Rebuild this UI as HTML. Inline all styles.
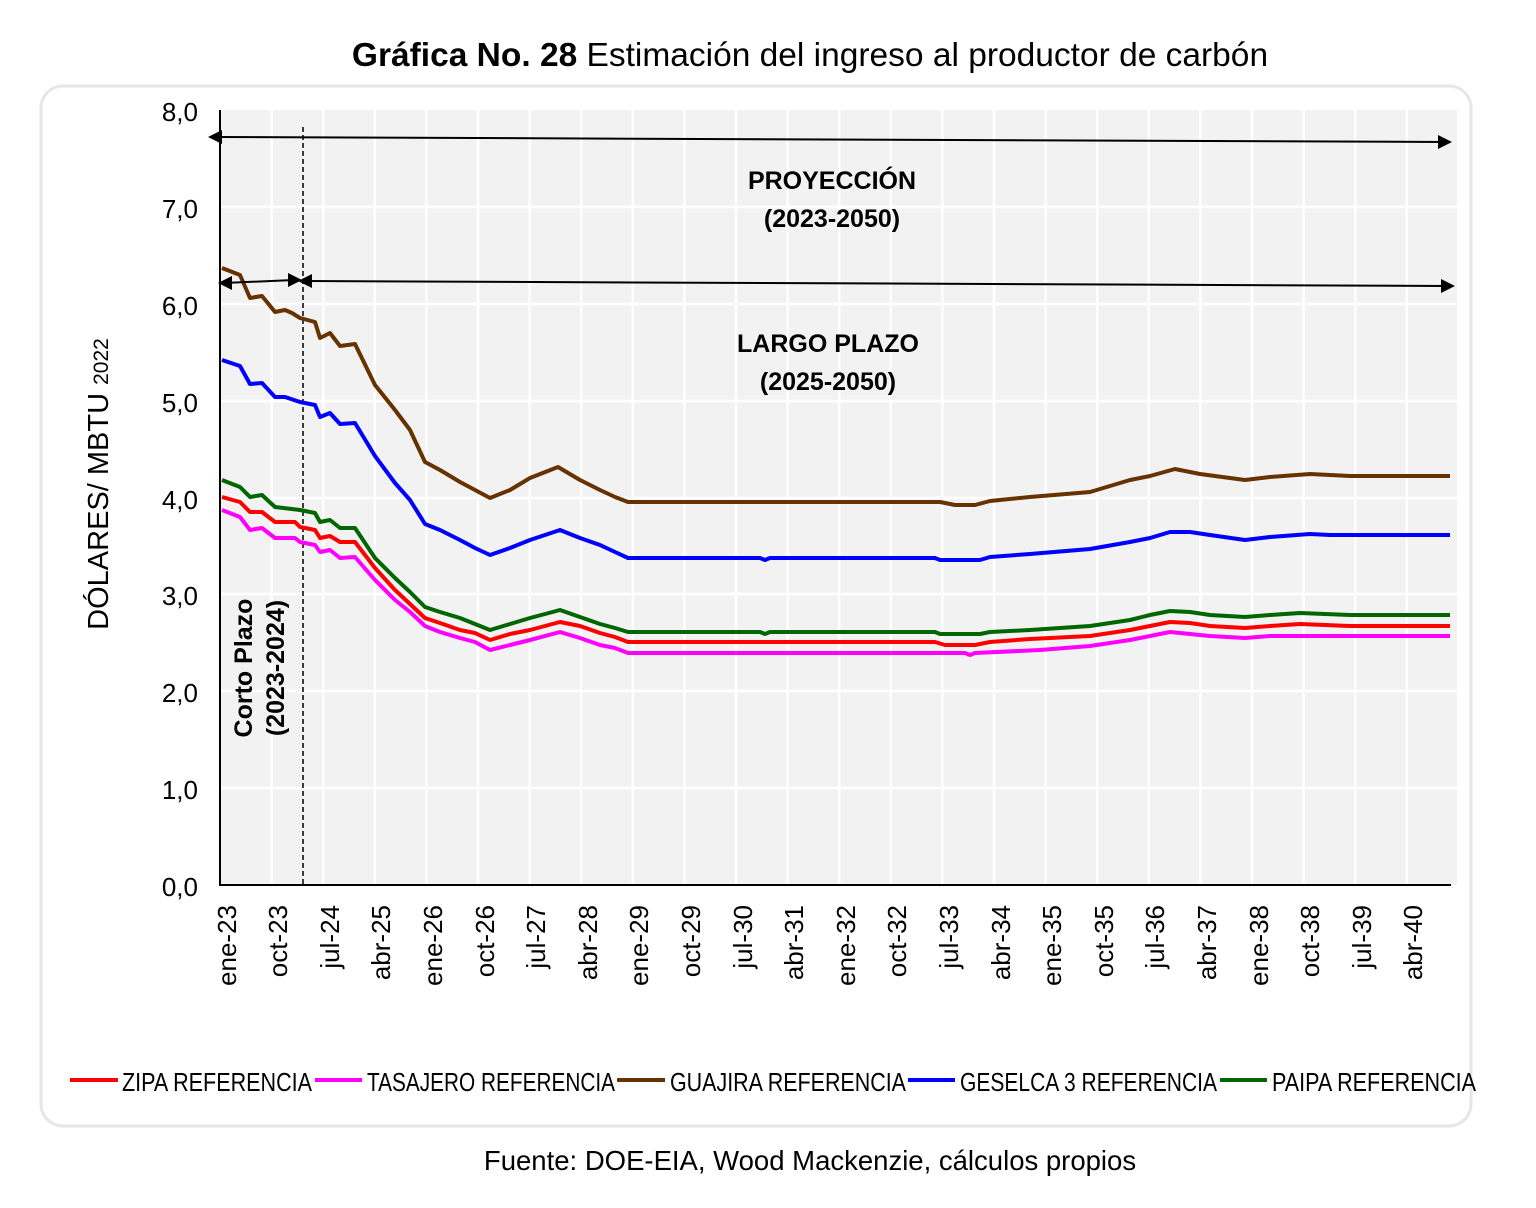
<!DOCTYPE html>
<html><head><meta charset="utf-8"><style>
body{margin:0;background:#fff;}
svg{display:block;}
.n{font-family:"Liberation Sans Narrow","Liberation Sans",sans-serif;}
.s{font-family:"Liberation Sans",sans-serif;}
</style></head><body>
<svg width="1536" height="1208" viewBox="0 0 1536 1208" xmlns="http://www.w3.org/2000/svg">
<text x="810" y="66" text-anchor="middle" class="s" font-size="33.5" fill="#000"><tspan font-weight="bold">Gráfica No. 28</tspan> Estimación del ingreso al productor de carbón</text>
<rect x="41" y="86" width="1430" height="1040" rx="22" fill="#fff" stroke="#e6e6e6" stroke-width="3"/>
<rect x="220" y="110" width="1237" height="775" fill="#f2f2f2"/>
<g stroke="#fff" stroke-width="2.5">
<line x1="220" y1="207" x2="1457" y2="207"/><line x1="220" y1="304" x2="1457" y2="304"/><line x1="220" y1="401" x2="1457" y2="401"/><line x1="220" y1="498" x2="1457" y2="498"/><line x1="220" y1="594" x2="1457" y2="594"/><line x1="220" y1="691" x2="1457" y2="691"/><line x1="220" y1="788" x2="1457" y2="788"/>
<line x1="271.6" y1="110" x2="271.6" y2="885"/><line x1="323.2" y1="110" x2="323.2" y2="885"/><line x1="374.8" y1="110" x2="374.8" y2="885"/><line x1="426.4" y1="110" x2="426.4" y2="885"/><line x1="478" y1="110" x2="478" y2="885"/><line x1="529.6" y1="110" x2="529.6" y2="885"/><line x1="581.2" y1="110" x2="581.2" y2="885"/><line x1="632.8" y1="110" x2="632.8" y2="885"/><line x1="684.4" y1="110" x2="684.4" y2="885"/><line x1="736" y1="110" x2="736" y2="885"/><line x1="787.6" y1="110" x2="787.6" y2="885"/><line x1="839.2" y1="110" x2="839.2" y2="885"/><line x1="890.8" y1="110" x2="890.8" y2="885"/><line x1="942.4" y1="110" x2="942.4" y2="885"/><line x1="994" y1="110" x2="994" y2="885"/><line x1="1045.6" y1="110" x2="1045.6" y2="885"/><line x1="1097.2" y1="110" x2="1097.2" y2="885"/><line x1="1148.8" y1="110" x2="1148.8" y2="885"/><line x1="1200.4" y1="110" x2="1200.4" y2="885"/><line x1="1252" y1="110" x2="1252" y2="885"/><line x1="1303.6" y1="110" x2="1303.6" y2="885"/><line x1="1355.2" y1="110" x2="1355.2" y2="885"/><line x1="1406.8" y1="110" x2="1406.8" y2="885"/>
</g>
<line x1="220" y1="110" x2="220" y2="885" stroke="#000" stroke-width="2"/>
<line x1="219" y1="885" x2="1451" y2="885" stroke="#000" stroke-width="2"/>
<line x1="303" y1="127" x2="303" y2="885" stroke="#000" stroke-width="1.5" stroke-dasharray="5,3"/>
<g fill="none" stroke-width="4" stroke-linejoin="round">
<polyline stroke="#663300" points="222,268 240,275 250,298 262,296 275,312 285,310 292,313 300,318 315,322 320,338 330,333 340,346 355,344 375,385 395,410 410,430 425,462 440,470 460,482 475,490 490,498 510,490 530,478 558,467 580,480 600,490 615,497 628,502 940,502 955,505 975,505 990,501 1030,497 1090,492 1130,480 1150,476 1175,469 1200,474 1230,478 1245,480 1270,477 1310,474 1350,476 1450,476"/>
<polyline stroke="#0000ff" points="222,360 240,366 250,384 262,383 275,397 285,397 300,402 315,405 320,417 330,413 340,424 355,423 375,456 395,483 410,500 425,524 440,530 460,540 475,548 490,555 510,548 530,540 560,530 580,538 600,545 615,552 628,558 760,558 765,560 770,558 935,558 940,560 980,560 990,557 1030,554 1090,549 1130,542 1150,538 1170,532 1190,532 1210,535 1245,540 1270,537 1310,534 1330,535 1450,535"/>
<polyline stroke="#006600" points="222,480 240,487 250,497 262,495 275,507 300,510 315,513 320,522 330,520 340,528 355,528 375,558 395,578 410,592 425,607 440,612 460,618 475,624 490,630 510,624 530,618 560,610 580,617 600,624 615,628 628,632 760,632 765,634 770,632 935,632 940,634 980,634 990,632 1030,630 1090,626 1130,620 1150,615 1170,611 1190,612 1210,615 1245,617 1270,615 1300,613 1350,615 1450,615"/>
<polyline stroke="#ff0000" points="222,497 240,502 250,512 262,512 275,522 295,522 300,527 315,530 320,538 330,536 340,542 355,542 375,568 395,590 410,604 425,618 440,623 460,630 475,633 490,640 510,634 530,630 560,622 580,626 600,633 615,637 628,642 935,642 945,645 975,645 990,642 1030,639 1090,636 1130,630 1150,626 1170,622 1190,623 1210,626 1245,628 1270,626 1300,624 1350,626 1450,626"/>
<polyline stroke="#ff00ff" points="222,510 240,517 250,530 262,528 275,538 295,538 300,542 315,545 320,552 330,550 340,558 355,557 375,580 395,600 410,612 425,626 440,632 460,638 475,642 490,650 510,645 530,640 560,632 580,638 600,645 615,648 628,653 965,653 970,655 975,653 1040,650 1090,646 1130,640 1150,636 1170,632 1190,634 1210,636 1245,638 1270,636 1450,636"/>
</g>
<g stroke="#000" stroke-width="2">
<line x1="218" y1="137" x2="1445" y2="142"/>
<line x1="224" y1="283" x2="294" y2="280"/>
<line x1="306" y1="281" x2="1448" y2="286"/>
</g>
<g fill="#000">
<polygon points="208,137 222,130 222,144"/>
<polygon points="1452,142 1438,135 1438,149"/>
<polygon points="218,283 232,276 232,290"/>
<polygon points="302,280 288,273 288,287"/>
<polygon points="298,281 312,274 312,288"/>
<polygon points="1455,286 1441,279 1441,293"/>
</g>
<g class="n" font-weight="bold" font-size="25" text-anchor="middle" fill="#000">
<text x="832" y="189">PROYECCIÓN</text><text x="832" y="227">(2023-2050)</text>
<text x="828" y="352">LARGO PLAZO</text><text x="828" y="390">(2025-2050)</text>
<text transform="translate(252,668) rotate(-90)">Corto Plazo</text>
<text transform="translate(284,668) rotate(-90)">(2023-2024)</text>
</g>
<g class="n" font-size="26" text-anchor="end" fill="#000">
<text x="198" y="121">8,0</text><text x="198" y="218">7,0</text><text x="198" y="315">6,0</text><text x="198" y="412">5,0</text><text x="198" y="509">4,0</text><text x="198" y="605">3,0</text><text x="198" y="702">2,0</text><text x="198" y="799">1,0</text><text x="198" y="896">0,0</text>
</g>
<text transform="translate(108,484) rotate(-90)" text-anchor="middle" class="s" font-size="29" fill="#000">DÓLARES/ MBTU <tspan font-size="21">2022</tspan></text>
<g class="s" font-size="26" text-anchor="end" fill="#000">
<text transform="translate(236,905) rotate(-90)">ene-23</text><text transform="translate(287,905) rotate(-90)">oct-23</text><text transform="translate(339,905) rotate(-90)">jul-24</text><text transform="translate(390,905) rotate(-90)">abr-25</text><text transform="translate(442,905) rotate(-90)">ene-26</text><text transform="translate(494,905) rotate(-90)">oct-26</text><text transform="translate(545,905) rotate(-90)">jul-27</text><text transform="translate(597,905) rotate(-90)">abr-28</text><text transform="translate(648,905) rotate(-90)">ene-29</text><text transform="translate(700,905) rotate(-90)">oct-29</text><text transform="translate(752,905) rotate(-90)">jul-30</text><text transform="translate(803,905) rotate(-90)">abr-31</text><text transform="translate(855,905) rotate(-90)">ene-32</text><text transform="translate(906,905) rotate(-90)">oct-32</text><text transform="translate(958,905) rotate(-90)">jul-33</text><text transform="translate(1010,905) rotate(-90)">abr-34</text><text transform="translate(1061,905) rotate(-90)">ene-35</text><text transform="translate(1113,905) rotate(-90)">oct-35</text><text transform="translate(1164,905) rotate(-90)">jul-36</text><text transform="translate(1216,905) rotate(-90)">abr-37</text><text transform="translate(1268,905) rotate(-90)">ene-38</text><text transform="translate(1319,905) rotate(-90)">oct-38</text><text transform="translate(1371,905) rotate(-90)">jul-39</text><text transform="translate(1422,905) rotate(-90)">abr-40</text>
</g>
<g stroke-width="4">
<line x1="70" y1="1080" x2="118" y2="1080" stroke="#ff0000"/>
<line x1="315" y1="1080" x2="362" y2="1080" stroke="#ff00ff"/>
<line x1="617" y1="1080" x2="665" y2="1080" stroke="#663300"/>
<line x1="908" y1="1080" x2="955" y2="1080" stroke="#0000ff"/>
<line x1="1220" y1="1080" x2="1267" y2="1080" stroke="#006600"/>
</g>
<g class="n" font-size="26" fill="#000">
<text x="122" y="1091" textLength="190" lengthAdjust="spacingAndGlyphs">ZIPA REFERENCIA</text>
<text x="367" y="1091" textLength="248" lengthAdjust="spacingAndGlyphs">TASAJERO REFERENCIA</text>
<text x="670" y="1091" textLength="236" lengthAdjust="spacingAndGlyphs">GUAJIRA REFERENCIA</text>
<text x="960" y="1091" textLength="257" lengthAdjust="spacingAndGlyphs">GESELCA 3 REFERENCIA</text>
<text x="1272" y="1091" textLength="204" lengthAdjust="spacingAndGlyphs">PAIPA REFERENCIA</text>
</g>
<text x="810" y="1170" text-anchor="middle" class="s" font-size="27.5" fill="#000">Fuente: DOE-EIA, Wood Mackenzie, cálculos propios</text>
</svg>
</body></html>
